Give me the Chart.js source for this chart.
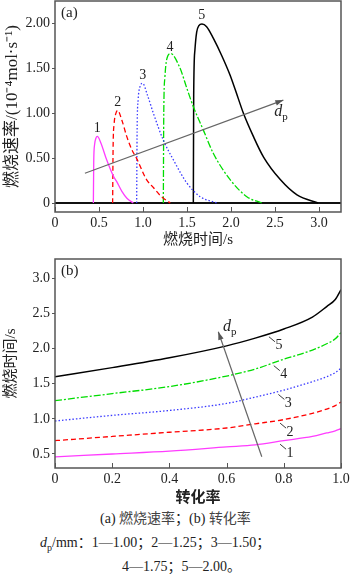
<!DOCTYPE html>
<html>
<head>
<meta charset="utf-8">
<script src="https://cdn.jsdelivr.net/npm/chart.js@4.4.1/dist/chart.umd.min.js"></script>
<style>
  body { margin: 0; width: 350px; height: 581px; background: #fff; position: relative; overflow: hidden;
         font-family: "Liberation Serif", "Noto Sans CJK SC", serif; color: #222; }
  canvas { position: absolute; left: 0; }
  #chartA { top: 0; }
  #chartB { top: 252px; }
  .cap { position: absolute; font-size: 14px; line-height: 18px; white-space: nowrap; }
  .cap .zh { color: #444; }
</style>
</head>
<body>
<canvas id="chartA" width="350" height="252"></canvas>
<canvas id="chartB" width="350" height="258"></canvas>
<div class="cap" style="top:510px;left:100px">(a) <span class="zh">燃烧速率</span>；(b) <span class="zh">转化率</span></div>
<div class="cap" style="top:534px;left:40px"><i>d</i><sub style="font-size:10px">p</sub>/mm：1—1.00；2—1.25；3—1.50；</div>
<div class="cap" style="top:558px;left:122px">4—1.75；5—2.00。</div>
<script>
// (a) burning rate vs burning time, one curve per particle size
const time1 = [0.436, 0.440, 0.450, 0.465, 0.481, 0.52, 0.587, 0.663, 0.70, 0.76, 0.82, 0.89];
const rate1 = [0, 0.45, 0.65, 0.72, 0.74, 0.67, 0.48, 0.30, 0.24, 0.13, 0.05, 0];
const time2 = [0.655, 0.660, 0.672, 0.690, 0.712, 0.76, 0.815, 0.87, 0.93, 1.04, 1.12, 1.20, 1.31];
const rate2 = [0, 0.60, 0.88, 0.99, 1.03, 0.92, 0.74, 0.60, 0.49, 0.26, 0.17, 0.08, 0];
const time3 = [0.928, 0.933, 0.945, 0.965, 0.996, 1.05, 1.117, 1.23, 1.345, 1.50, 1.65, 1.84];
const rate3 = [0, 0.80, 1.15, 1.29, 1.33, 1.20, 1.00, 0.70, 0.48, 0.22, 0.07, 0];
const time4 = [1.231, 1.236, 1.249, 1.268, 1.315, 1.42, 1.50, 1.572, 1.686, 1.80, 1.99, 2.18, 2.35];
const rate4 = [0, 1.00, 1.40, 1.59, 1.66, 1.50, 1.27, 1.07, 0.81, 0.55, 0.26, 0.07, 0];
const time5 = [1.572, 1.576, 1.59, 1.61, 1.635, 1.67, 1.723, 1.80, 1.894, 1.99, 2.083, 2.14, 2.254, 2.37, 2.56, 2.75, 2.99];
const rate5 = [0, 1.20, 1.70, 1.90, 1.97, 1.99, 1.96, 1.83, 1.64, 1.42, 1.16, 1.00, 0.74, 0.51, 0.26, 0.09, 0];

// (b) burning time vs conversion
const conversion = [0, 0.2, 0.4, 0.6, 0.7, 0.8, 0.9, 0.95, 0.98, 1.0];
const burn1 = [0.46, 0.50, 0.54, 0.60, 0.63, 0.69, 0.75, 0.80, 0.83, 0.86];
const burn2 = [0.69, 0.75, 0.81, 0.87, 0.93, 0.99, 1.08, 1.14, 1.19, 1.24];
const burn3 = [0.97, 1.05, 1.12, 1.22, 1.31, 1.41, 1.53, 1.60, 1.66, 1.72];
const burn4 = [1.26, 1.36, 1.46, 1.61, 1.71, 1.85, 1.98, 2.07, 2.14, 2.23];
const burn5 = [1.60, 1.73, 1.87, 2.04, 2.15, 2.28, 2.45, 2.60, 2.70, 2.84];

const curveNames = ["1", "2", "3", "4", "5"];
const xTicksA = [0, 0.5, 1.0, 1.5, 2.0, 2.5, 3.0];
const yTicksA = [0, 0.5, 1.0, 1.5, 2.0];
const xTicksB = [0, 0.2, 0.4, 0.6, 0.8, 1.0];
const yTicksB = [0.5, 1.0, 1.5, 2.0, 2.5, 3.0];

// annotation anchors (data units)
const nameSpotA = [[0.479, 0.83], [0.712, 1.12], [0.997, 1.42], [1.307, 1.73], [1.667, 2.09]];
const arrowA = [[0.34, 0.33], [2.595, 1.144]];
const dpSpotA = [2.56, 1.01];
const leaderTB = [0.787, 0.787, 0.781, 0.765, 0.748];
const arrowB = [[0.723, 0.46], [0.571, 2.24]];
const dpSpotB = [0.608, 2.31];

const colors = ["#ff3cff", "#ff0000", "#3a3aff", "#00dd00", "#000000"];
const dashes = [[], [5, 3], [1.5, 2], [7, 2, 2, 2], []];
const serif = "'Liberation Serif', 'Noto Sans CJK SC', serif";
const cjk = "'Liberation Serif', 'Noto Sans CJK SC', sans-serif";

const pairs = (xs, ys) => xs.map((x, i) => ({ x, y: ys[i] }));
const interp = (xs, ys, t) => {
  for (let i = 1; i < xs.length; i++) {
    if (t <= xs[i]) return ys[i - 1] + (ys[i] - ys[i - 1]) * (t - xs[i - 1]) / (xs[i] - xs[i - 1]);
  }
  return ys[ys.length - 1];
};

function makeSets(list) {
  return list.map((d, i) => ({
    data: d,
    borderColor: colors[i],
    borderWidth: i === 4 ? 1.5 : 1.3,
    borderDash: dashes[i],
    pointRadius: 0,
    fill: false,
    cubicInterpolationMode: "monotone",
  }));
}

function drawArrow(ctx, x0, y0, x1, y1) {
  ctx.save();
  ctx.strokeStyle = "#666";
  ctx.fillStyle = "#555";
  ctx.lineWidth = 1.2;
  ctx.beginPath();
  ctx.moveTo(x0, y0);
  ctx.lineTo(x1, y1);
  ctx.stroke();
  const a = Math.atan2(y1 - y0, x1 - x0), L = 8, W = 2.8;
  ctx.beginPath();
  ctx.moveTo(x1, y1);
  ctx.lineTo(x1 - L * Math.cos(a) + W * Math.sin(a), y1 - L * Math.sin(a) - W * Math.cos(a));
  ctx.lineTo(x1 - L * Math.cos(a) - W * Math.sin(a), y1 - L * Math.sin(a) + W * Math.cos(a));
  ctx.closePath();
  ctx.fill();
  ctx.restore();
}

function drawDp(ctx, px, py) {
  ctx.save();
  ctx.fillStyle = "#222";
  ctx.textBaseline = "middle";
  ctx.textAlign = "left";
  ctx.font = "italic 16px " + serif;
  ctx.fillText("d", px - 6, py);
  const w = ctx.measureText("d").width;
  ctx.font = "11px " + serif;
  ctx.fillText("p", px - 6 + w, py + 5);
  ctx.restore();
}

function framePlugin(panel) {
  return {
    id: "frame" + panel,
    beforeDatasetsDraw(chart) {
      if (panel !== "a") return;
      const { ctx, chartArea: a, scales: { y } } = chart;
      const py = y.getPixelForValue(0);
      ctx.save();
      ctx.strokeStyle = "#111";
      ctx.lineWidth = 2;
      ctx.beginPath();
      ctx.moveTo(a.left, py);
      ctx.lineTo(a.right, py);
      ctx.stroke();
      ctx.restore();
    },
    afterDatasetsDraw(chart) {
      const { ctx, chartArea: a, scales: { x, y } } = chart;
      ctx.save();
      // frame
      ctx.strokeStyle = "#555";
      ctx.lineWidth = 1.5;
      ctx.strokeRect(a.left, a.top, a.right - a.left, a.bottom - a.top);
      // inner x ticks
      ctx.lineWidth = 1;
      (panel === "a" ? xTicksA : xTicksB).forEach(v => {
        const px = Math.round(x.getPixelForValue(v)) + 0.5;
        ctx.beginPath();
        ctx.moveTo(px, a.bottom);
        ctx.lineTo(px, a.bottom - 5);
        ctx.stroke();
      });
      ctx.fillStyle = "#222";
      ctx.font = "15px " + serif;
      ctx.textAlign = "left";
      ctx.textBaseline = "middle";
      ctx.fillText(panel === "a" ? "(a)" : "(b)", a.left + 6, a.top + 12);
      ctx.font = "14px " + serif;
      ctx.textAlign = "center";
      if (panel === "a") {
        drawArrow(ctx, x.getPixelForValue(arrowA[0][0]), y.getPixelForValue(arrowA[0][1]),
                  x.getPixelForValue(arrowA[1][0]), y.getPixelForValue(arrowA[1][1]));
        nameSpotA.forEach((p, i) => ctx.fillText(curveNames[i], x.getPixelForValue(p[0]), y.getPixelForValue(p[1])));
        drawDp(ctx, x.getPixelForValue(dpSpotA[0]), y.getPixelForValue(dpSpotA[1]));
      } else {
        drawArrow(ctx, x.getPixelForValue(arrowB[0][0]), y.getPixelForValue(arrowB[0][1]),
                  x.getPixelForValue(arrowB[1][0]), y.getPixelForValue(arrowB[1][1]));
        const curves = [burn1, burn2, burn3, burn4, burn5];
        ctx.strokeStyle = "#222";
        ctx.lineWidth = 0.9;
        leaderTB.forEach((t, i) => {
          const px = x.getPixelForValue(t);
          const py = y.getPixelForValue(interp(conversion, curves[i], t));
          ctx.beginPath();
          ctx.moveTo(px, py + 3);
          ctx.lineTo(px + 6, py + 8);
          ctx.stroke();
          ctx.fillText(curveNames[i], px + 10, py + 12);
        });
        drawDp(ctx, x.getPixelForValue(dpSpotB[0]), y.getPixelForValue(dpSpotB[1]));
      }
      ctx.restore();
    },
  };
}

function axisX(ticksArr, min, max, fmt, title, bold, height) {
  return {
    type: "linear", min, max,
    afterBuildTicks: s => { s.ticks = ticksArr.map(v => ({ value: v })); },
    afterFit: s => { s.height = height; s.paddingLeft = 0; s.paddingRight = 0; },
    ticks: { callback: fmt, font: { family: serif, size: 14 }, color: "#222", padding: 3, maxRotation: 0, autoSkip: false },
    grid: { display: false, drawTicks: false },
    border: { display: false },
    title: { display: true, text: title, color: "#222", font: { family: cjk, size: 15, weight: bold ? "bold" : "normal" }, padding: { top: 0, bottom: 3 } },
  };
}

function axisY(ticksArr, min, max, fmt, title, size) {
  return {
    type: "linear", min, max,
    afterBuildTicks: s => { s.ticks = ticksArr.map(v => ({ value: v })); },
    afterFit: s => { s.width = 55; s.paddingTop = 0; s.paddingBottom = 0; },
    ticks: { callback: fmt, font: { family: serif, size: 14 }, color: "#222", padding: 2, autoSkip: false },
    grid: { drawOnChartArea: false, drawTicks: true, tickLength: 3, color: "#555" },
    border: { display: false },
    title: { display: true, text: title, color: "#222", font: { family: cjk, size }, padding: { top: 2, bottom: 0 } },
  };
}

const common = {
  responsive: false,
  animation: false,
  devicePixelRatio: 1,
  plugins: { legend: { display: false }, tooltip: { enabled: false } },
};

new Chart(document.getElementById("chartA"), {
  type: "line",
  data: {
    datasets: makeSets([pairs(time1, rate1), pairs(time2, rate2), pairs(time3, rate3), pairs(time4, rate4), pairs(time5, rate5)]),
  },
  options: {
    ...common,
    layout: { padding: { top: 1, right: 9, left: 0, bottom: 0 } },
    scales: {
      x: axisX(xTicksA, 0, 3.25, v => (v === 0 ? "0" : v.toFixed(1)), "燃烧时间/s", false, 40),
      y: axisY(yTicksA, -0.1, 2.245, v => (v === 0 ? "0" : v.toFixed(2)), "燃烧速率/(10⁻⁴mol·s⁻¹)", 17),
    },
  },
  plugins: [framePlugin("a")],
});

new Chart(document.getElementById("chartB"), {
  type: "line",
  data: {
    datasets: makeSets([burn1, burn2, burn3, burn4, burn5].map(b => pairs(conversion, b))),
  },
  options: {
    ...common,
    layout: { padding: { top: 7, right: 9, left: 0, bottom: 0 } },
    scales: {
      x: axisX(xTicksB, 0, 1, v => (v === 0 ? "0" : v.toFixed(1)), "转化率", true, 42),
      y: axisY(yTicksB, 0.3006, 3.277, v => v.toFixed(1), "燃烧时间/s", 15),
    },
  },
  plugins: [framePlugin("b")],
});
</script>
</body>
</html>
